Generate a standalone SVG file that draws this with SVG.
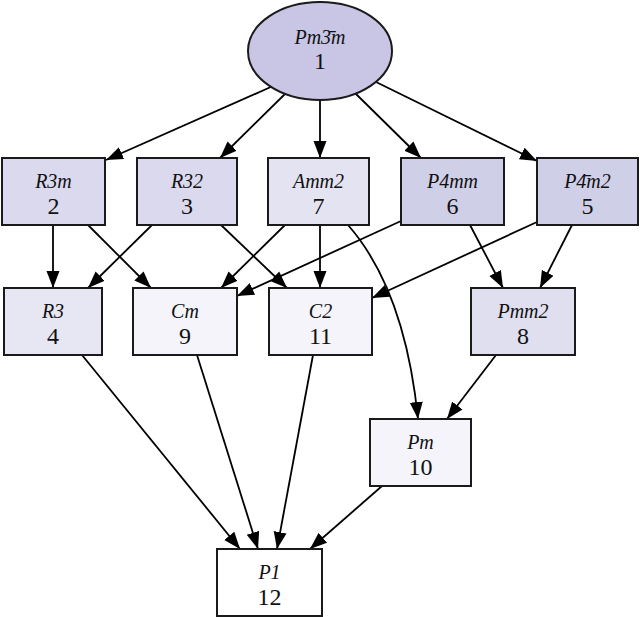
<svg xmlns="http://www.w3.org/2000/svg" width="640" height="617" viewBox="0 0 640 617">
<style>
.n{stroke:#1a1a1a;stroke-width:2}
.lb{font-family:"Liberation Serif",serif;font-style:italic;font-size:20px;text-anchor:middle;fill:#111}
.nm{font-family:"Liberation Serif",serif;font-size:24px;text-anchor:middle;fill:#111}
.e{fill:none;stroke:#000;stroke-width:1.8;marker-end:url(#a)}
</style>
<defs>
<marker id="a" markerUnits="userSpaceOnUse" markerWidth="18" markerHeight="14" refX="17" refY="7" orient="auto">
<path d="M0,0.5 L17,7 L0,13.5 z" fill="#000"/>
</marker>
</defs>
<rect width="640" height="617" fill="#fff"/>
<g id="edges">
<path class="e" d="M273,86 L106,160"/>
<path class="e" d="M286,93 L220,158"/>
<path class="e" d="M320,100 L320,158"/>
<path class="e" d="M355,93 L421,158"/>
<path class="e" d="M376,82 L537,161"/>
<path class="e" d="M53,225 L53,288"/>
<path class="e" d="M88,225 L151,288"/>
<path class="e" d="M152,225 L88,288"/>
<path class="e" d="M221,225 L287,288"/>
<path class="e" d="M285,225 L221,288"/>
<path class="e" d="M320,225 L320,288"/>
<path class="e" d="M348,225 Q405,290 418,419"/>
<path class="e" d="M401,221 L237,296"/>
<path class="e" d="M470,225 L503,288"/>
<path class="e" d="M537,222 L372,298"/>
<path class="e" d="M572,225 L540,288"/>
<path class="e" d="M82,355 L240,549"/>
<path class="e" d="M197,355 L258,549"/>
<path class="e" d="M313,355 L277,549"/>
<path class="e" d="M496,355 L447,419"/>
<path class="e" d="M382,486 L310,549"/>
</g>
<g id="n1"><ellipse class="n" cx="320" cy="51" rx="72" ry="49" fill="#c8c6e4"/><text class="lb" x="320" y="44">Pm3̄m</text><text class="nm" x="320" y="69">1</text></g>
<g id="n2"><rect class="n" x="2" y="158" width="103" height="67" fill="#dad9ee"/><text class="lb" x="53.5" y="188">R3m</text><text class="nm" x="53.5" y="214">2</text></g>
<g id="n3"><rect class="n" x="137" y="158" width="100" height="67" fill="#dad9ee"/><text class="lb" x="187" y="188">R32</text><text class="nm" x="187" y="214">3</text></g>
<g id="n7"><rect class="n" x="268" y="158" width="101" height="67" fill="#e4e3f2"/><text class="lb" x="318.5" y="188">Amm2</text><text class="nm" x="318.5" y="214">7</text></g>
<g id="n6"><rect class="n" x="401" y="158" width="103" height="67" fill="#d0cfe8"/><text class="lb" x="452.5" y="188">P4mm</text><text class="nm" x="452.5" y="214">6</text></g>
<g id="n5"><rect class="n" x="537" y="158" width="101" height="67" fill="#d0cfe8"/><text class="lb" x="587.5" y="188">P4̄m2</text><text class="nm" x="587.5" y="214">5</text></g>
<g id="n4"><rect class="n" x="4" y="288" width="98" height="67" fill="#e7e7f4"/><text class="lb" x="53" y="318">R3</text><text class="nm" x="53" y="344">4</text></g>
<g id="n9"><rect class="n" x="133" y="288" width="104" height="67" fill="#f4f4fa"/><text class="lb" x="185" y="318">Cm</text><text class="nm" x="185" y="344">9</text></g>
<g id="n11"><rect class="n" x="269" y="288" width="103" height="67" fill="#f4f4fa"/><text class="lb" x="320.5" y="318">C2</text><text class="nm" x="320.5" y="344">11</text></g>
<g id="n8"><rect class="n" x="471" y="288" width="104" height="67" fill="#e0dff0"/><text class="lb" x="523" y="318">Pmm2</text><text class="nm" x="523" y="344">8</text></g>
<g id="n10"><rect class="n" x="370" y="419" width="101" height="67" fill="#f4f4fa"/><text class="lb" x="420.5" y="449">Pm</text><text class="nm" x="420.5" y="475">10</text></g>
<g id="n12"><rect class="n" x="217" y="549" width="105" height="67" fill="#ffffff"/><text class="lb" x="269.5" y="579">P1</text><text class="nm" x="269.5" y="605">12</text></g>
</svg>
